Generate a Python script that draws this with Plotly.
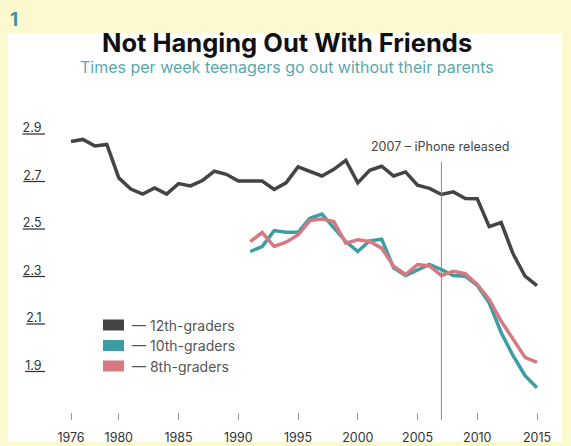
import plotly.graph_objects as go

# ---------------- data ----------------
years_12 = list(range(1976, 2016))
grade12 = [2.864, 2.873, 2.845, 2.852, 2.711, 2.664, 2.643, 2.669, 2.643, 2.687,
           2.677, 2.700, 2.739, 2.726, 2.698, 2.698, 2.698, 2.662, 2.690, 2.757,
           2.739, 2.719, 2.747, 2.785, 2.690, 2.743, 2.760, 2.719, 2.736, 2.680,
           2.667, 2.641, 2.652, 2.624, 2.623, 2.506, 2.523, 2.391, 2.297, 2.257]

years_lower = list(range(1991, 2016))
grade10 = [2.401, 2.422, 2.489, 2.482, 2.482, 2.541, 2.559, 2.499, 2.443, 2.401,
           2.446, 2.453, 2.332, 2.300, 2.325, 2.347, 2.325, 2.300, 2.297, 2.258,
           2.185, 2.060, 1.962, 1.878, 1.827]
grade8 = [2.443, 2.481, 2.422, 2.440, 2.471, 2.531, 2.538, 2.527, 2.436, 2.450,
          2.443, 2.415, 2.339, 2.304, 2.346, 2.340, 2.300, 2.318, 2.308, 2.262,
          2.199, 2.108, 2.032, 1.955, 1.934]

series_names = ["— 12th-graders", "— 10th-graders", "— 8th-graders"]
series_colors = ["#444444", "#3E9CA5", "#D67A82"]

x_ticks = [1976, 1980, 1985, 1990, 1995, 2000, 2005, 2010, 2015]
y_ticks = [1.9, 2.1, 2.3, 2.5, 2.7, 2.9]
y_tick_labels = ["1.9", "2.1", "2.3", "2.5", "2.7", "2.9"]

event_year = 2007
event_label = "2007 – iPhone released"
title_text = "Not Hanging Out With Friends"
subtitle_text = "Times per week teenagers go out without their parents"
panel_number = "1"

# ---------------- layout geometry (pixels) ----------------
W, H = 571, 446
L, R, T, B = 50, 16, 110, 26
PW, PH = W - L - R, H - T - B
FONT = "Inter"


def px_x(p):
    return (p - L) / PW


def px_y(p):
    return (H - B - p) / PH


fig = go.Figure()

traces = [(years_12, grade12), (years_lower, grade10), (years_lower, grade8)]
for (xs, ys), name, color in zip(traces, series_names, series_colors):
    fig.add_trace(go.Scatter(x=xs, y=ys, mode="lines", name=name,
                             line=dict(color=color, width=3.5),
                             showlegend=False))

shapes = [
    # white panel
    dict(type="rect", xref="paper", yref="paper",
         x0=px_x(8), x1=px_x(562), y0=px_y(442), y1=px_y(33),
         fillcolor="white", line=dict(width=0), layer="below"),
    # event line
    dict(type="line", xref="x", yref="paper", x0=event_year, x1=event_year,
         y0=0, y1=px_y(162), line=dict(color="#8a8a8a", width=1)),
]

annotations = [
    dict(text="<b>" + title_text + "</b>", xref="paper", yref="paper",
         x=px_x(287), y=px_y(42), xanchor="center", yanchor="middle",
         showarrow=False, font=dict(family=FONT, size=25.5, color="#111111")),
    dict(text=subtitle_text, xref="paper", yref="paper",
         x=px_x(287), y=px_y(67), xanchor="center", yanchor="middle",
         showarrow=False, font=dict(family=FONT, size=16, color="#5AA7AE")),
    dict(text="<b>" + panel_number + "</b>", xref="paper", yref="paper",
         x=px_x(8), y=px_y(19), xanchor="left", yanchor="middle",
         showarrow=False, font=dict(family=FONT, size=19, color="#3F9198")),
    dict(text=event_label, xref="x", yref="paper",
         x=event_year - 0.15, y=px_y(146), xanchor="center", yanchor="middle",
         showarrow=False, font=dict(family=FONT, size=12.5, color="#444444")),
]

# legend built from series names / colors
row_y = [325, 345.5, 366]
for name, color, yc in zip(series_names, series_colors, row_y):
    shapes.append(dict(type="rect", xref="paper", yref="paper",
                       x0=px_x(103), x1=px_x(124),
                       y0=px_y(yc + 5.5), y1=px_y(yc - 5.5),
                       fillcolor=color, line=dict(width=0)))
    annotations.append(dict(text=name, xref="paper", yref="paper",
                            x=px_x(130), y=px_y(yc), xanchor="left",
                            yanchor="middle", showarrow=False,
                            font=dict(family=FONT, size=14, color="#555555")))

px_per_year = (537 - 71) / 39
x_range = [1976 - (71 - L) / px_per_year, 2015 + (W - R - 537) / px_per_year]
px_per_unit = 237.5
y_range = [2.9 - (H - B - 133) / px_per_unit, 2.9 + (133 - T) / px_per_unit]

fig.update_layout(
    width=W, height=H,
    margin=dict(l=L, r=R, t=T, b=B, pad=0, autoexpand=False),
    paper_bgcolor="#FDF9CF",
    plot_bgcolor="rgba(0,0,0,0)",
    shapes=shapes,
    annotations=annotations,
    showlegend=False,
    font=dict(family=FONT, color="#333333"),
    xaxis=dict(range=x_range, tickvals=x_ticks, ticks="inside", ticklen=7,
               tickcolor="#9a9a9a", tickwidth=1, showgrid=False,
               zeroline=False, showline=False, ticklabelstandoff=8,
               automargin=False,
               tickfont=dict(family=FONT, size=12.5, color="#333333")),
    yaxis=dict(range=y_range, tickvals=y_ticks,
               ticktext=["<u>" + t + "\u00a0</u>" for t in y_tick_labels],
               ticks="", showgrid=False, zeroline=False, showline=False,
               ticklabelshift=-5, ticklabelstandoff=4, automargin=False,
               tickfont=dict(family=FONT, size=12.5, color="#333333")),
)

fig.write_html("out.html",
               config={"displayModeBar": False},
               post_script="document.body.style.margin='0';"
                           "document.body.style.overflow='hidden';")
